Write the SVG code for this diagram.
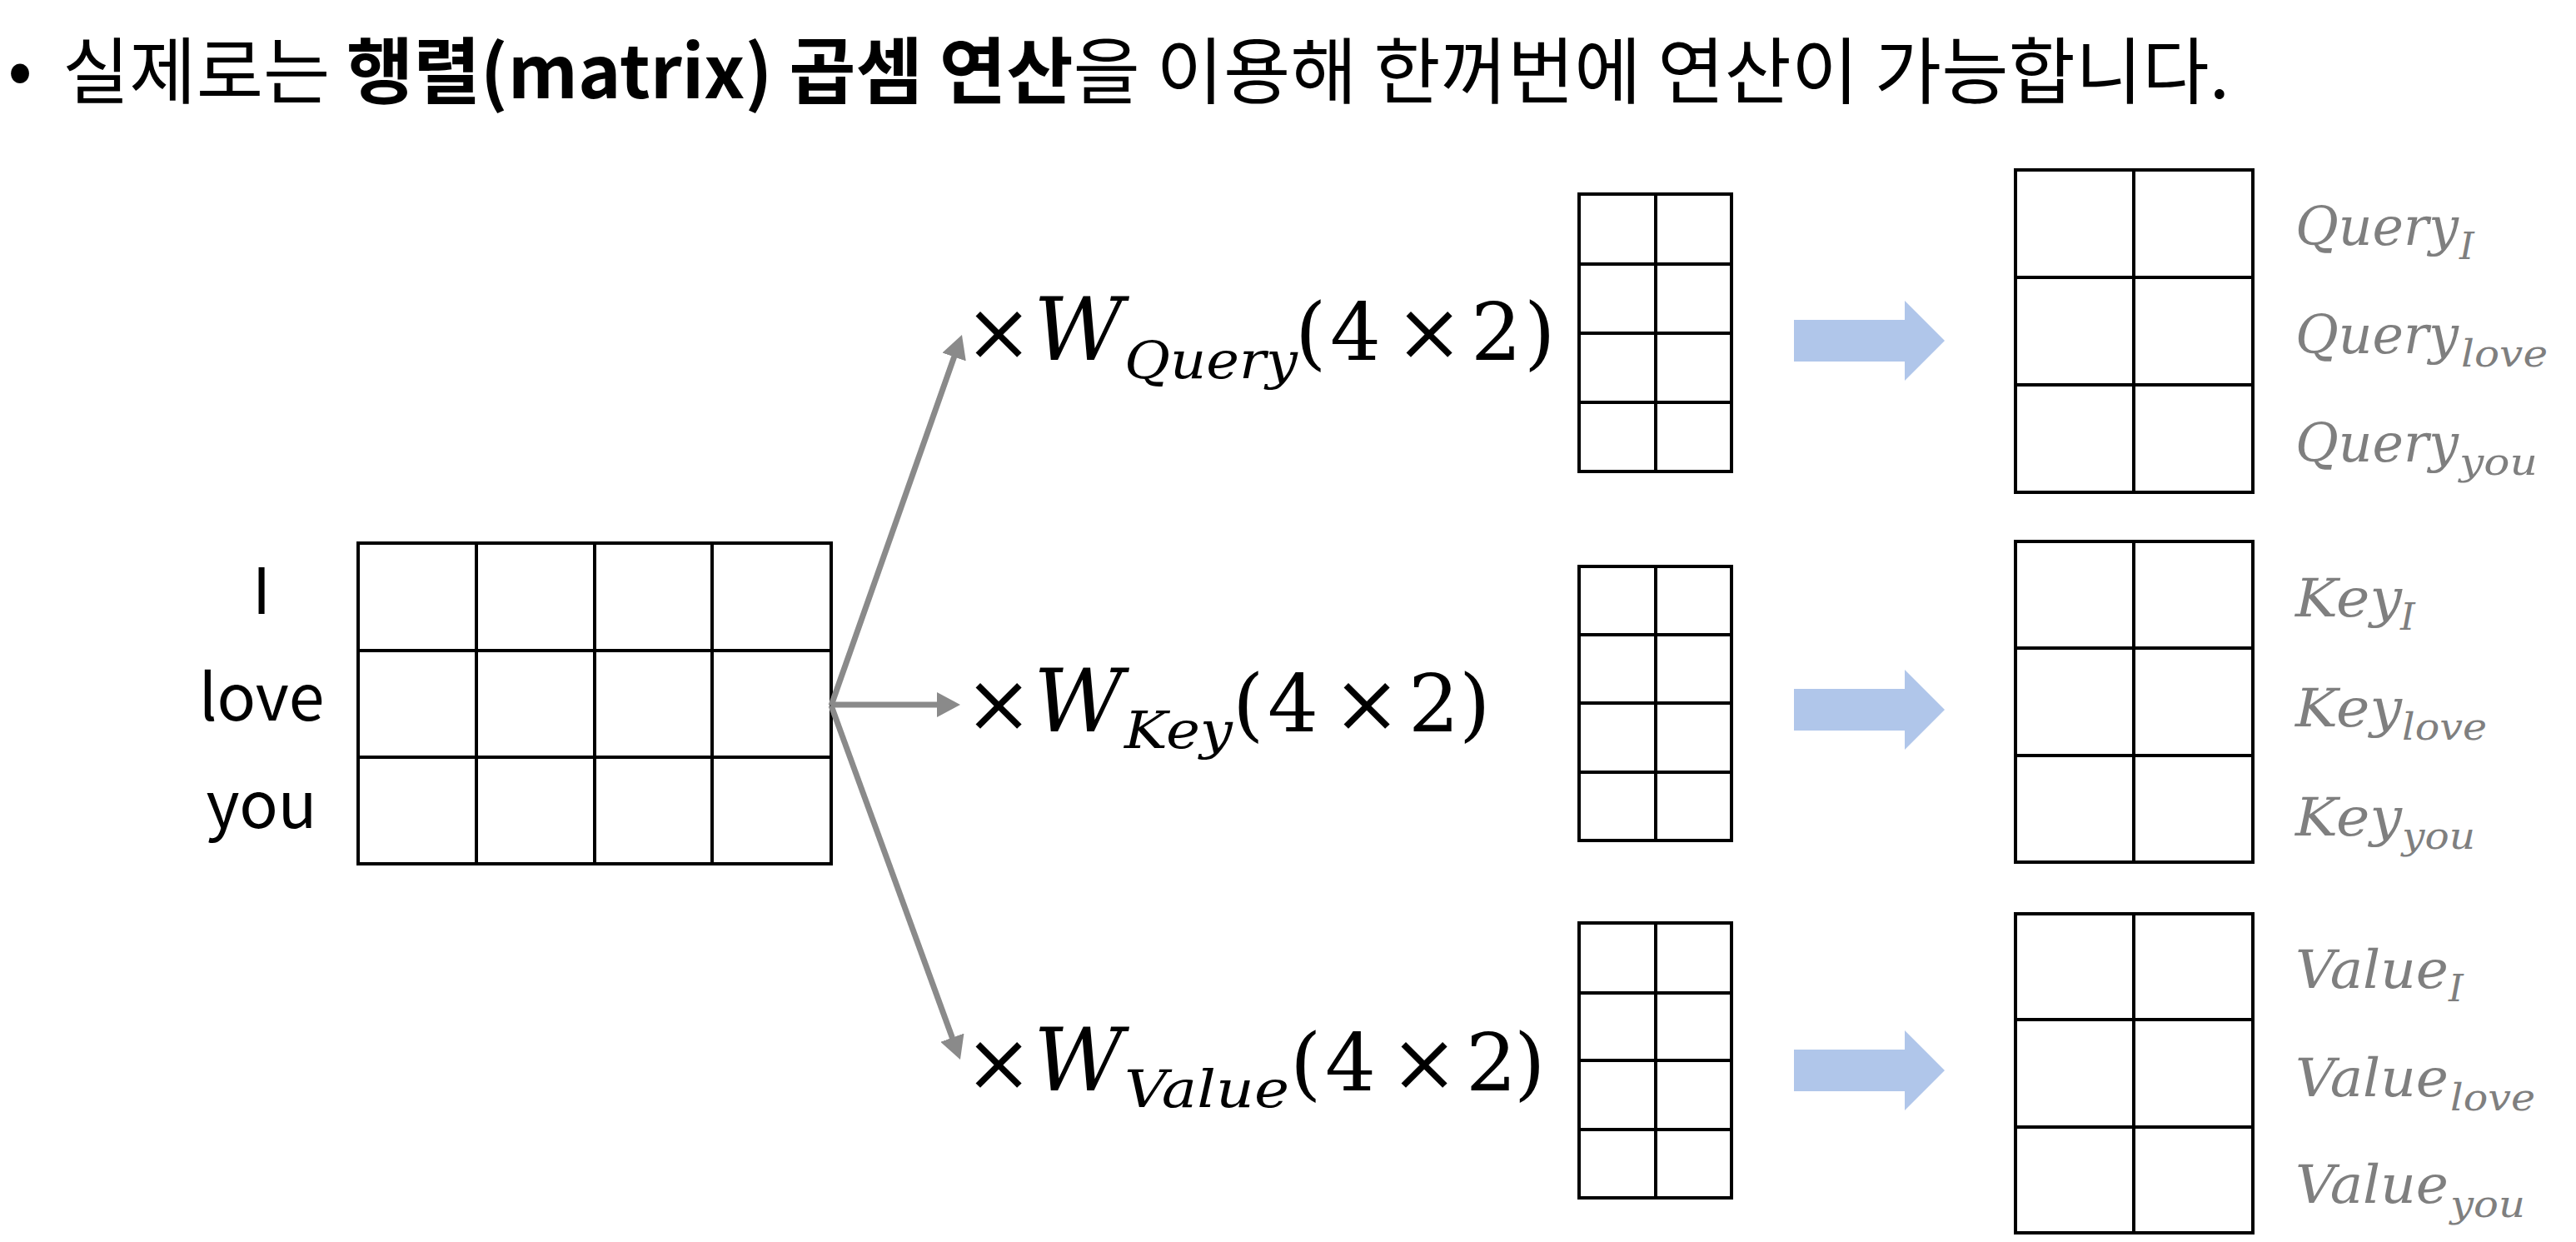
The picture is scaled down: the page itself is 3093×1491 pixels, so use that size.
<svg xmlns="http://www.w3.org/2000/svg" width="3093" height="1491" viewBox="0 0 3093 1491">
<style>
  .title { font-family: "Noto Sans CJK KR", "Noto Sans", sans-serif; font-size: 87px; fill: #000; }
  .word { font-family: "Noto Sans CJK KR", "Noto Sans", sans-serif; font-size: 77px; fill: #000; text-anchor: middle; }
  .grid { fill: none; stroke: #000; stroke-width: 4; stroke-linecap: square; }
  .m { font-family: "DejaVu Serif", "Liberation Serif", serif; font-size: 96px; fill: #000; }
  .x { font-family: "DejaVu Serif", "Liberation Serif", serif; font-size: 98px; fill: #000; }
  .sp { font-size: 20px; }
  .mi { font-family: "DejaVu Serif", "Liberation Serif", serif; font-size: 104px; font-style: italic; fill: #000; }
  .ms { font-family: "DejaVu Serif", "Liberation Serif", serif; font-size: 62px; font-style: italic; fill: #000; }
  .lab { font-family: "DejaVu Serif", "Liberation Serif", serif; font-size: 63px; font-style: italic; fill: #7f7f7f; }
  .labs { font-family: "DejaVu Serif", "Liberation Serif", serif; font-size: 45px; font-style: italic; fill: #7f7f7f; }
  .conn { stroke: #8a8a8a; stroke-width: 7; fill: none; }
  .blue { fill: #b0c6ea; }
</style>
<defs>
  <marker id="head" markerUnits="userSpaceOnUse" markerWidth="28" markerHeight="30" refX="8" refY="15" orient="auto">
    <path d="M0,0 L28,15 L0,30 Z" fill="#8a8a8a"/>
  </marker>
</defs>
<rect width="3093" height="1491" fill="#fff"/>

<g id="title">
  <text class="title" x="24" y="114" text-anchor="middle">•</text>
  <text class="title" x="75" y="118" textLength="2602" lengthAdjust="spacingAndGlyphs">실제로는 <tspan font-weight="bold">행렬(matrix) 곱셈 연산</tspan>을 이용해 한꺼번에 연산이 가능합니다.</text>
</g>

<g id="input-matrix">
  <rect class="grid" x="430" y="652" width="568" height="385"/>
  <path class="grid" d="M572,652 V1037 M714,652 V1037 M855,652 V1037 M430,781 H998 M430,909 H998"/>
  <text class="word" x="314" y="737">I</text>
  <text class="word" x="314" y="865">love</text>
  <text class="word" x="314" y="994">you</text>
</g>

<g id="connectors">
  <line class="conn" x1="998" y1="847" x2="1148.3" y2="420.9" marker-end="url(#head)"/>
  <line class="conn" x1="998" y1="846" x2="1133" y2="846" marker-end="url(#head)"/>
  <line class="conn" x1="998" y1="847" x2="1146.1" y2="1253.2" marker-end="url(#head)"/>
  <polygon class="blue" points="2154,384 2287,384 2287,361 2335,409 2287,457 2287,434 2154,434"/>
  <polygon class="blue" points="2154,827 2287,827 2287,804 2335,852 2287,900 2287,877 2154,877"/>
  <polygon class="blue" points="2154,1260 2287,1260 2287,1237 2335,1285 2287,1333 2287,1310 2154,1310"/>
</g>

<g id="w-query">
  <text class="x" x="1199" y="432" text-anchor="middle">×</text>
  <text class="mi" x="1241" y="432" textLength="108" lengthAdjust="spacingAndGlyphs">W</text>
  <text class="ms" x="1350" y="454" textLength="208" lengthAdjust="spacingAndGlyphs">Query</text>
  <text class="m" y="432"><tspan x="1555">(</tspan><tspan x="1597">4</tspan><tspan class="sp"> </tspan><tspan class="x" x="1675">×</tspan><tspan class="sp"> </tspan><tspan x="1766">2</tspan><tspan x="1830">)</tspan></text>
  <rect class="grid" x="1896" y="233" width="183" height="333"/>
  <path class="grid" d="M1988,233 V566 M1896,317 H2079 M1896,400 H2079 M1896,483 H2079"/>
</g>

<g id="w-key">
  <text class="x" x="1199" y="878" text-anchor="middle">×</text>
  <text class="mi" x="1241" y="878" textLength="108" lengthAdjust="spacingAndGlyphs">W</text>
  <text class="ms" x="1350" y="898" textLength="130" lengthAdjust="spacingAndGlyphs">Key</text>
  <text class="m" y="878"><tspan x="1480">(</tspan><tspan x="1522">4</tspan><tspan class="sp"> </tspan><tspan class="x" x="1600">×</tspan><tspan class="sp"> </tspan><tspan x="1691">2</tspan><tspan x="1752">)</tspan></text>
  <rect class="grid" x="1896" y="680" width="183" height="329"/>
  <path class="grid" d="M1988,680 V1009 M1896,762 H2079 M1896,844 H2079 M1896,927 H2079"/>
</g>

<g id="w-value">
  <text class="x" x="1199" y="1309" text-anchor="middle">×</text>
  <text class="mi" x="1241" y="1309" textLength="108" lengthAdjust="spacingAndGlyphs">W</text>
  <text class="ms" x="1350" y="1329" textLength="198" lengthAdjust="spacingAndGlyphs">Value</text>
  <text class="m" y="1309"><tspan x="1549">(</tspan><tspan x="1591">4</tspan><tspan class="sp"> </tspan><tspan class="x" x="1669">×</tspan><tspan class="sp"> </tspan><tspan x="1760">2</tspan><tspan x="1818">)</tspan></text>
  <rect class="grid" x="1896" y="1108" width="183" height="330"/>
  <path class="grid" d="M1988,1108 V1438 M1896,1192 H2079 M1896,1273 H2079 M1896,1356 H2079"/>
</g>

<g id="query-out">
  <rect class="grid" x="2420" y="204" width="285" height="387"/>
  <path class="grid" d="M2562,204 V591 M2420,333 H2705 M2420,462 H2705"/>
  <text class="lab" x="2756" y="294" textLength="196" lengthAdjust="spacingAndGlyphs">Query</text>
  <text class="labs" x="2953" y="311">I</text>
  <text class="lab" x="2756" y="424" textLength="196" lengthAdjust="spacingAndGlyphs">Query</text>
  <text class="labs" x="2955" y="440" textLength="104" lengthAdjust="spacingAndGlyphs">love</text>
  <text class="lab" x="2756" y="554" textLength="196" lengthAdjust="spacingAndGlyphs">Query</text>
  <text class="labs" x="2953" y="570" textLength="94" lengthAdjust="spacingAndGlyphs">you</text>
</g>

<g id="key-out">
  <rect class="grid" x="2420" y="650" width="285" height="385"/>
  <path class="grid" d="M2562,650 V1035 M2420,778 H2705 M2420,907 H2705"/>
  <text class="lab" x="2756" y="740" textLength="128" lengthAdjust="spacingAndGlyphs">Key</text>
  <text class="labs" x="2882" y="756">I</text>
  <text class="lab" x="2756" y="872" textLength="128" lengthAdjust="spacingAndGlyphs">Key</text>
  <text class="labs" x="2884" y="888" textLength="102" lengthAdjust="spacingAndGlyphs">love</text>
  <text class="lab" x="2756" y="1003" textLength="128" lengthAdjust="spacingAndGlyphs">Key</text>
  <text class="labs" x="2884" y="1019" textLength="88" lengthAdjust="spacingAndGlyphs">you</text>
</g>

<g id="value-out">
  <rect class="grid" x="2420" y="1097" width="285" height="383"/>
  <path class="grid" d="M2562,1097 V1480 M2420,1224 H2705 M2420,1353 H2705"/>
  <text class="lab" x="2756" y="1186" textLength="184" lengthAdjust="spacingAndGlyphs">Value</text>
  <text class="labs" x="2940" y="1202">I</text>
  <text class="lab" x="2756" y="1316" textLength="184" lengthAdjust="spacingAndGlyphs">Value</text>
  <text class="labs" x="2942" y="1333" textLength="102" lengthAdjust="spacingAndGlyphs">love</text>
  <text class="lab" x="2756" y="1444" textLength="184" lengthAdjust="spacingAndGlyphs">Value</text>
  <text class="labs" x="2942" y="1461" textLength="90" lengthAdjust="spacingAndGlyphs">you</text>
</g>
</svg>
